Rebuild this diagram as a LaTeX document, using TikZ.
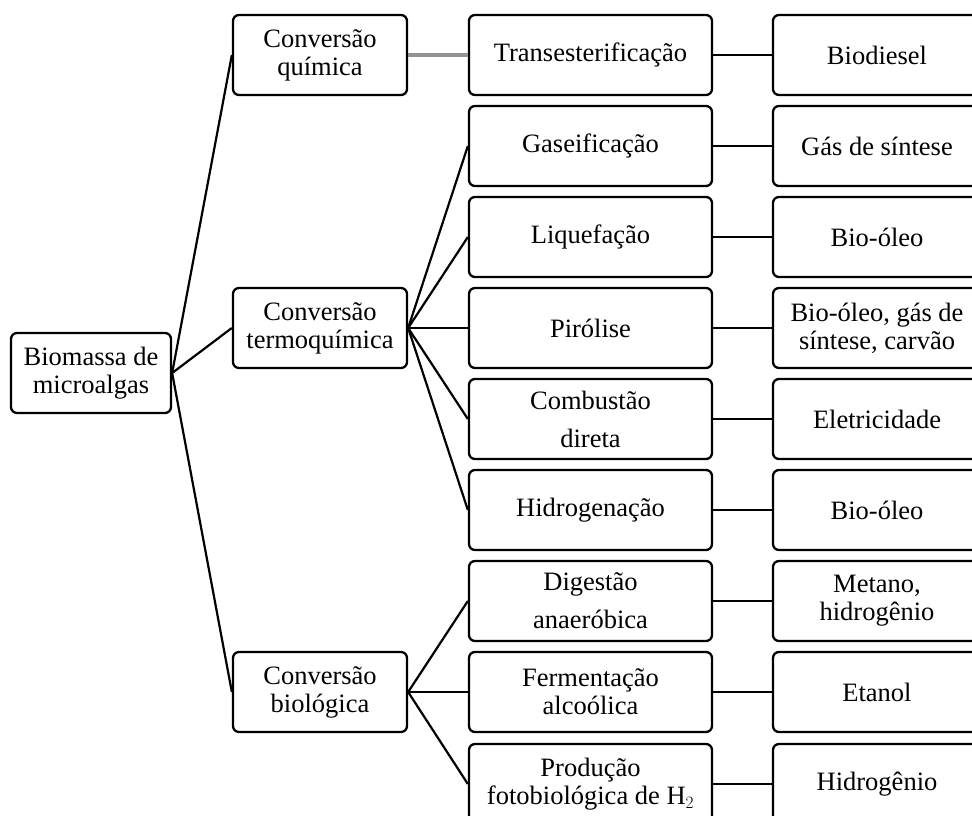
\documentclass[tikz,border=0pt]{standalone}
\usepackage{fontspec}
\setmainfont{Liberation Serif}
\begin{document}
\begin{tikzpicture}[x=1pt,y=-1pt,
  box/.style={draw=black, line width=2.3pt, rounded corners=6pt, align=center,
    minimum height=80pt, inner sep=2pt, font=\fontsize{26.5}{28}\selectfont},
  rootbox/.style={box, minimum width=160pt},
  lone/.style={box, minimum width=174pt},
  ltwo/.style={box, minimum width=243pt},
  lthree/.style={box, minimum width=208pt},
  wide/.style={font=\fontsize{26.5}{38}\selectfont},
  link/.style={draw=black, line width=2.2pt},
  greylink/.style={draw=gray!85, line width=3.2pt}]
\clip (0,0) rectangle (972,816);
\node[rootbox] (root) at (91,373) {Biomassa de\\microalgas};
\node[lone] (quim) at (320,55) {Conversão\\química};
\node[lone] (termo) at (320,328) {Conversão\\termoquímica};
\node[lone] (bio) at (320,692) {Conversão\\biológica};
\node[ltwo] (trans) at (590.5,55) {Transesterificação};
\node[ltwo] (gas) at (590.5,146) {Gaseificação};
\node[ltwo] (liq) at (590.5,237) {Liquefação};
\node[ltwo] (pir) at (590.5,328) {Pirólise};
\node[ltwo,wide] (comb) at (590.5,419) {Combustão\\direta};
\node[ltwo] (hidro) at (590.5,510) {Hidrogenação};
\node[ltwo,wide] (dig) at (590.5,601) {Digestão\\anaeróbica};
\node[ltwo] (ferm) at (590.5,692) {Fermentação\\alcoólica};
\node[ltwo] (foto) at (590.5,784) {Produção\\fotobiológica de H$_2$};
\node[lthree] (biod) at (877,55) {Biodiesel};
\node[lthree] (sint) at (877,146) {Gás de síntese};
\node[lthree] (oleoA) at (877,237) {Bio-óleo};
\node[lthree] (mix) at (877,328) {Bio-óleo, gás de\\síntese, carvão};
\node[lthree] (elet) at (877,419) {Eletricidade};
\node[lthree] (oleoB) at (877,510) {Bio-óleo};
\node[lthree] (met) at (877,601) {Metano,\\hidrogênio};
\node[lthree] (etan) at (877,692) {Etanol};
\node[lthree] (hid) at (877,784) {Hidrogênio};
\draw[link] (root.east) -- (quim.west);
\draw[link] (root.east) -- (termo.west);
\draw[link] (root.east) -- (bio.west);
\draw[greylink] (quim.east) -- (trans.west);
\foreach \t in {gas,liq,pir,comb,hidro}{\draw[link] (termo.east) -- (\t.west);}
\foreach \t in {dig,ferm,foto}{\draw[link] (bio.east) -- (\t.west);}
\draw[link] (trans) -- (biod);
\draw[link] (gas) -- (sint);
\draw[link] (liq) -- (oleoA);
\draw[link] (pir) -- (mix);
\draw[link] (comb) -- (elet);
\draw[link] (hidro) -- (oleoB);
\draw[link] (dig) -- (met);
\draw[link] (ferm) -- (etan);
\draw[link] (foto) -- (hid);
\end{tikzpicture}
\end{document}
